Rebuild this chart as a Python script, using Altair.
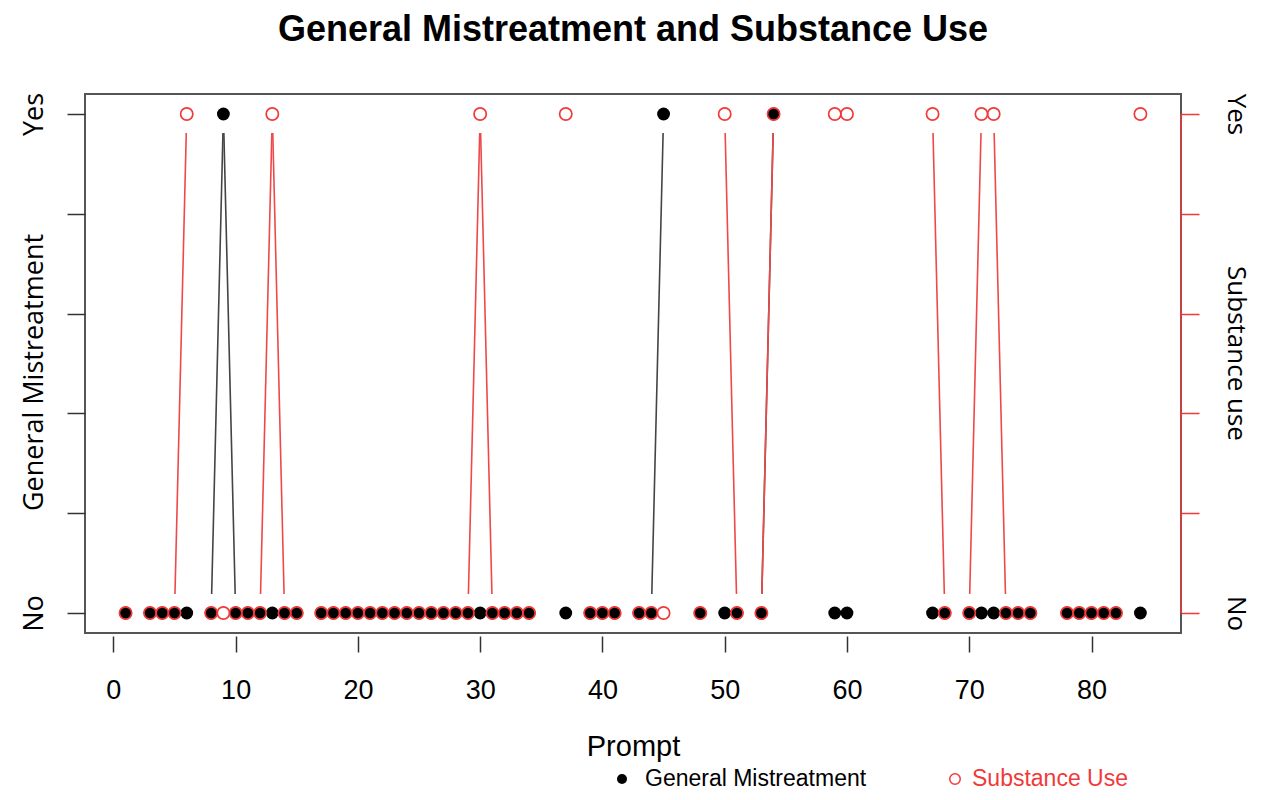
import altair as alt
import pandas as pd

# Prompts that have data (missing prompts break the lines)
prompts = [1, 3, 4, 5, 6,
           8, 9, 10, 11, 12, 13, 14, 15,
           17, 18, 19, 20, 21, 22, 23, 24, 25, 26, 27, 28, 29, 30, 31, 32, 33, 34,
           37,
           39, 40, 41,
           43, 44, 45,
           48,
           50, 51,
           53, 54,
           59, 60,
           67, 68,
           70, 71, 72, 73, 74, 75,
           78, 79, 80, 81, 82,
           84]

# General Mistreatment (0 = No, 1 = Yes)
gm = [0, 0, 0, 0, 0,
      0, 1, 0, 0, 0, 0, 0, 0,
      0, 0, 0, 0, 0, 0, 0, 0, 0, 0, 0, 0, 0, 0, 0, 0, 0, 0,
      0,
      0, 0, 0,
      0, 0, 1,
      0,
      0, 0,
      0, 1,
      0, 0,
      0, 0,
      0, 0, 0, 0, 0, 0,
      0, 0, 0, 0, 0,
      0]

# Substance Use (0 = No, 1 = Yes)
su = [0, 0, 0, 0, 1,
      0, 0, 0, 0, 0, 1, 0, 0,
      0, 0, 0, 0, 0, 0, 0, 0, 0, 0, 0, 0, 0, 1, 0, 0, 0, 0,
      1,
      0, 0, 0,
      0, 0, 0,
      0,
      1, 0,
      0, 1,
      1, 1,
      1, 0,
      0, 1, 1, 0, 0, 0,
      0, 0, 0, 0, 0,
      1]

legend_labels = ["General Mistreatment", "Substance Use"]
title_text = "General Mistreatment and Substance Use"

RED = "#f03a3a"
DARK = "#333333"

df = pd.DataFrame({"prompt": prompts, "gm": gm, "su": su})

# Line segments between consecutive prompts where the value changes
seg_rows = []
for name, vals in (("gm", gm), ("su", su)):
    for i in range(len(prompts) - 1):
        if prompts[i + 1] - prompts[i] == 1 and vals[i] != vals[i + 1]:
            seg_rows.append({"series": name, "x1": prompts[i], "y1": vals[i],
                             "x2": prompts[i + 1], "y2": vals[i + 1]})
seg = pd.DataFrame(seg_rows)

W, H = 1096, 539

xscale = alt.Scale(domain=[-2.32, 87.32], nice=False, zero=False)
yscale = alt.Scale(domain=[-0.04, 1.04], nice=False, zero=False)

xaxis = alt.Axis(values=[0, 10, 20, 30, 40, 50, 60, 70, 80], grid=False, domain=False,
                 offset=3, tickSize=16, tickColor=DARK, tickWidth=1.5,
                 labelFont="Liberation Sans", labelFontSize=27, labelColor="black",
                 labelBaseline="alphabetic", labelPadding=46, labelFlush=False,
                 title="Prompt", titleFont="Liberation Sans", titleFontSize=29,
                 titleFontWeight="normal", titleColor="black",
                 titleBaseline="alphabetic", titleX=W / 2, titleY=119)

yvals = [0, 0.2, 0.4, 0.6, 0.8, 1]
label_expr = "datum.value == 0 ? 'No' : (datum.value == 1 ? 'Yes' : '')"

yaxis_left = alt.Axis(values=yvals, labelExpr=label_expr, orient="left", grid=False, domain=False,
                      tickSize=18, tickColor=DARK, tickWidth=1.5,
                      labelAngle=270, labelAlign="center", labelBaseline="alphabetic",
                      labelFont="Open Sans", labelFontSize=27, labelColor="black",
                      labelPadding=25, labelFlush=False, labelOverlap=False,
                      title="General Mistreatment", titleFont="Open Sans",
                      titleFontSize=27, titleFontWeight="normal", titleColor="black",
                      titleAngle=270, titleAlign="center", titleBaseline="alphabetic",
                      titleX=-43, titleY=278)

yaxis_right = alt.Axis(values=yvals, labelExpr=label_expr, orient="right", grid=False,
                       domain=False, tickSize=18, tickColor=RED, tickWidth=1.5,
                       labelAngle=90, labelAlign="center", labelBaseline="alphabetic",
                       labelFont="Open Sans", labelFontSize=26, labelColor="black",
                       labelPadding=28, labelFlush=False, labelOverlap=False,
                       title="Substance use", titleFont="Open Sans",
                       titleFontSize=26, titleFontWeight="normal", titleColor="black",
                       titleAngle=90, titleAlign="center", titleBaseline="alphabetic",
                       titleX=46, titleY=259)

GAP = 0.038
lines = alt.Chart(seg).transform_calculate(
    xa=f"datum.x1 + {GAP} * (datum.x2 - datum.x1)",
    ya=f"datum.y1 + {GAP} * (datum.y2 - datum.y1)",
    xb=f"datum.x2 - {GAP} * (datum.x2 - datum.x1)",
    yb=f"datum.y2 - {GAP} * (datum.y2 - datum.y1)",
).mark_rule(strokeWidth=1.6).encode(
    x=alt.X("xa:Q", scale=xscale, axis=xaxis),
    x2="xb:Q",
    y=alt.Y("ya:Q", scale=yscale, axis=None),
    y2="yb:Q",
    color=alt.Color("series:N", scale=alt.Scale(domain=["gm", "su"], range=["#444444", "#f04848"]),
                    legend=None),
)

# red right-axis line between No and Yes
right_line = alt.Chart(pd.DataFrame({"a": [0]})).mark_rule(color=RED, strokeWidth=1.5).encode(
    x=alt.value(W), y=alt.Y(datum=0, scale=yscale, axis=None), y2=alt.Y2(datum=1)
)

gm_pts = alt.Chart(df).mark_circle(size=165, color="black", opacity=1).encode(
    x=alt.X("prompt:Q", scale=xscale, axis=xaxis),
    y=alt.Y("gm:Q", scale=yscale, axis=yaxis_left),
)

su_pts = alt.Chart(df).mark_point(shape="circle", size=150, filled=False, stroke=RED,
                                  strokeWidth=1.7, opacity=1).encode(
    x=alt.X("prompt:Q", scale=xscale, axis=xaxis),
    y=alt.Y("su:Q", scale=yscale, axis=yaxis_right),
)

# Title as a text mark above the plot
title_mark = alt.Chart(pd.DataFrame({"t": [title_text]})).mark_text(
    align="center", baseline="alphabetic", font="Liberation Sans", fontSize=36,
    fontWeight="bold", color="black").encode(
    x=alt.value(W / 2), y=alt.value(41 - 94), text="t:N")

# Manual legend below the plot
leg_y = 779 - 94
leg_gm_sym = alt.Chart(pd.DataFrame({"a": [0]})).mark_circle(size=100, color="black", opacity=1).encode(
    x=alt.value(622 - 85), y=alt.value(leg_y))
leg_su_sym = alt.Chart(pd.DataFrame({"a": [0]})).mark_point(shape="circle", size=110, filled=False,
                                                            stroke=RED, strokeWidth=1.5, opacity=1).encode(
    x=alt.value(955 - 85), y=alt.value(leg_y))
leg_gm_txt = alt.Chart(pd.DataFrame({"t": [legend_labels[0]]})).mark_text(
    align="left", baseline="middle", font="Liberation Sans", fontSize=23, color="black").encode(
    x=alt.value(645 - 85), y=alt.value(leg_y), text="t:N")
leg_su_txt = alt.Chart(pd.DataFrame({"t": [legend_labels[1]]})).mark_text(
    align="left", baseline="middle", font="Liberation Sans", fontSize=23, color=RED).encode(
    x=alt.value(972 - 85), y=alt.value(leg_y), text="t:N")

chart = alt.layer(
    lines, right_line, gm_pts, su_pts, title_mark,
    leg_gm_sym, leg_su_sym, leg_gm_txt, leg_su_txt
).resolve_axis(y="independent").properties(
    width=W, height=H,
    background="white",
    autosize=alt.AutoSizeParams(type="none"),
    padding={"left": 77, "top": 86, "right": 75, "bottom": 159},
).configure_view(stroke="#555555", strokeWidth=2)

chart.save("out.html", embed_options={"renderer": "svg", "actions": False})
